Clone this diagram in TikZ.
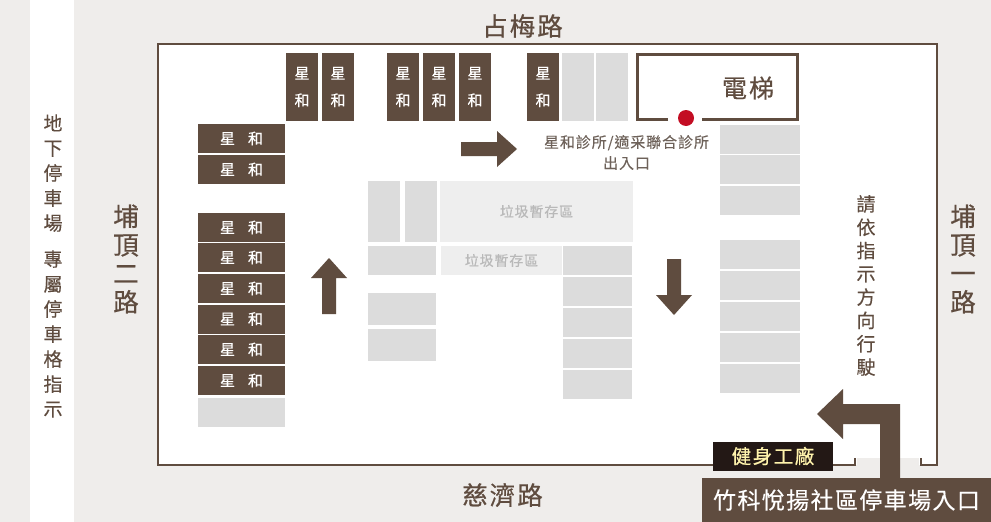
\documentclass[tikz,border=0pt]{standalone}
\usepackage{fontspec}
\newfontfamily\cjk[LetterSpace=6,FakeBold=0.25]{Noto Sans CJK TC}
\newfontfamily\cjkb[LetterSpace=8,FakeBold=0.6]{Noto Sans CJK TC}
\definecolor{wallbrown}{HTML}{5F4C3F}
\definecolor{bggray}{HTML}{EFEDEB}
\definecolor{stallgray}{HTML}{DCDCDC}
\definecolor{binggray}{HTML}{EEEEEE}
\definecolor{bintext}{HTML}{B9B9B9}
\definecolor{notetext}{HTML}{6E625A}
\definecolor{gymblack}{HTML}{231815}
\definecolor{gymtext}{HTML}{FFF3AC}
\definecolor{dotred}{HTML}{C30D23}
\tikzset{
  stallv/.style={fill=wallbrown,text=white,inner sep=0,minimum width=32pt,minimum height=68pt,align=center,font={\cjk\fontsize{15}{27}\selectfont}},
  stallh/.style={fill=wallbrown,text=white,inner sep=0,minimum width=87pt,minimum height=29pt,font={\cjk\fontsize{15}{20}\selectfont}},
  emptyv/.style={fill=stallgray,inner sep=0,minimum width=32pt,minimum height=68pt},
  emptyh/.style={fill=stallgray,inner sep=0,minimum height=29pt},
  binarea/.style={fill=binggray,text=bintext,inner sep=0,font={\cjk\fontsize{14}{20}\selectfont}},
  road/.style={text=wallbrown,inner sep=0,align=center,font={\cjkb\fontsize{25.5}{28.5}\selectfont}},
  signtext/.style={text=wallbrown,inner sep=0,align=center,font={\cjk\fontsize{19}{25}\selectfont}},
  flowarrow/.style={fill=wallbrown}
}
\begin{document}
\begin{tikzpicture}[x=1pt,y=-1pt]
\useasboundingbox (0,0) rectangle (991,522);
\fill[bggray] (0,0) rectangle (991,522);
\fill[white] (30,0) rectangle (74,522);

% building
\fill[white] (158,44) rectangle (937,465);
\fill[bggray] (857,458) rectangle (919,466);
\draw[wallbrown,line width=2.5pt] (855,458) -- (855,465) -- (158,465) -- (158,44) -- (937,44) -- (937,465) -- (921,465) -- (921,458);

% top row
\foreach \sx [count=\i] in {302,338,403,439,475,543}
  \node[stallv] (top\i) at (\sx,87) {星\\和};
\node[emptyv] (topa) at (577.5,87) {};
\node[emptyv] (topb) at (612,87) {};

% left column
\foreach \sy [count=\i] in {138.5,169.5,227.5,257.5,288.5,319,349.5,380.5}
  \node[stallh] (left\i) at (241.5,\sy) {星\hspace{13pt}和};
\node[emptyh,minimum width=87pt] (leftg) at (241.5,412) {};

% right column
\foreach \sy [count=\i] in {139,169.5,200.5,254,285.5,316.5,347,378}
  \node[emptyh,minimum width=80pt] (right\i) at (760,\sy) {};

% middle block
\node[emptyv,minimum height=61pt] (mida) at (384,211.5) {};
\node[emptyv,minimum height=61pt] (midb) at (420.5,211.5) {};
\node[emptyh,minimum width=68pt] (midc) at (402,260.5) {};
\node[emptyh,minimum width=68pt,minimum height=32pt] (midd) at (402,309) {};
\node[emptyh,minimum width=68pt,minimum height=32pt] (mide) at (402,345) {};
\foreach \sy [count=\i] in {260.5,291,322,353,384}
  \node[emptyh,minimum width=69pt] (mid\i) at (597.5,\sy) {};
\node[binarea,minimum width=193pt,minimum height=61pt] (binbig) at (536.5,211.5) {垃圾暫存區};
\node[binarea,minimum width=121pt,minimum height=29pt] (binsmall) at (501.5,260.5) {垃圾暫存區};

% elevator
\draw[wallbrown,line width=3pt] (668,119.5) -- (637.5,119.5) -- (637.5,54.5) -- (797.5,54.5) -- (797.5,119.5) -- (702,119.5);
\node[text=wallbrown,inner sep=0,font={\cjkb\fontsize{25}{28}\selectfont}] (lift) at (748,88) {電梯};
\fill[dotred] (686,118) circle (8);
\node[text=notetext,inner sep=0,align=center,font={\cjk\fontsize{15}{21}\selectfont}] (clinic) at (626.5,152.5) {星和診所/適采聯合診所\\出入口};

% arrows
\foreach \ax/\ay/\arot in {461/149/0,329/314/90,674/259/-90}
  \fill[flowarrow,shift={(\ax,\ay)},rotate=\arot] (0,-7) -- (36,-7) -- (36,-18) -- (56,0) -- (36,18) -- (36,7) -- (0,7) -- cycle;
\fill[flowarrow] (817,414) -- (843,389) -- (843,404) -- (900,404) -- (900,480) -- (880,480) -- (880,424) -- (843,424) -- (843,439) -- cycle;

% labels
\node[road] (north) at (522.5,26) {占梅路};
\node[road] (south) at (502.5,495) {慈濟路};
\node[road] (west) at (126,259) {埔\\頂\\二\\路};
\node[road] (east) at (963,259) {埔\\頂\\一\\路};
\node[signtext] (park) at (53,266) {地\\下\\停\\車\\場\\[11pt]專\\屬\\停\\車\\格\\指\\示};
\node[signtext,font={\cjk\fontsize{19}{23.3}\selectfont}] (follow) at (866,285.5) {請\\依\\指\\示\\方\\向\\行\\駛};
\node[fill=gymblack,text=gymtext,inner sep=0,minimum width=120pt,minimum height=29pt,font={\cjkb\fontsize{19.5}{24}\selectfont}] (gym) at (773,456) {健身工廠};
\node[fill=wallbrown,text=white,inner sep=0,minimum width=290pt,minimum height=44pt,font={\cjk\fontsize{23}{26}\selectfont}] (entry) at (846.5,500) {竹科悅揚社區停車場入口};
\end{tikzpicture}
\end{document}
